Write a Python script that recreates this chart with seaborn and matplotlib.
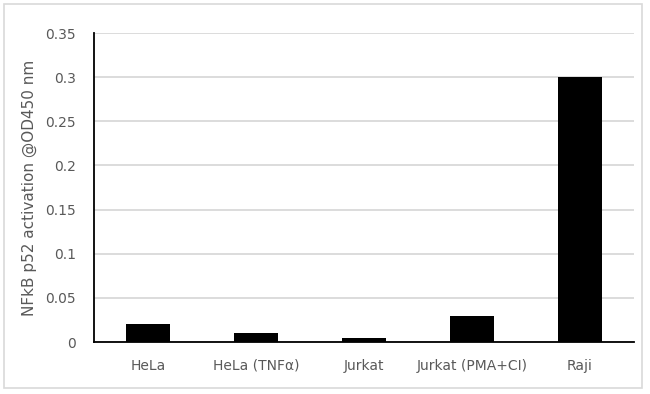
import matplotlib
matplotlib.use("Agg")
import matplotlib.pyplot as plt
import seaborn as sns
import pandas as pd
from matplotlib.patches import Rectangle

categories = ["HeLa", "HeLa (TNFα)", "Jurkat", "Jurkat (PMA+CI)", "Raji"]
values = [0.020, 0.010, 0.005, 0.030, 0.300]
yticks = [0, 0.05, 0.1, 0.15, 0.2, 0.25, 0.3, 0.35]
ytick_labels = ["0", "0.05", "0.1", "0.15", "0.2", "0.25", "0.3", "0.35"]

sns.set_theme(style="white")
plt.rcParams["font.family"] = ["DejaVu Sans"]

df = pd.DataFrame({"cat": categories, "val": values})

fig = plt.figure(figsize=(6.5, 3.94), dpi=100)
ax = fig.add_axes([94/650, 1-342/394, (634-94)/650, (342-33)/394])

sns.barplot(data=df, x="cat", y="val", color="black", width=0.41, ax=ax,
            saturation=1, zorder=3, linewidth=0, edgecolor="none")

ax.set_ylim(0, 0.35)
ax.set_xlim(-0.5, 4.5)
ax.set_yticks(yticks)
ax.set_yticklabels(ytick_labels)
ax.yaxis.grid(True, color="#d9d9d9", linewidth=1.3, zorder=0)
ax.set_axisbelow(True)
for s in ["top", "right"]:
    ax.spines[s].set_visible(False)
ax.spines["left"].set_color("black")
ax.spines["left"].set_linewidth(1.3)
ax.spines["bottom"].set_color("black")
ax.spines["bottom"].set_linewidth(1.3)
ax.tick_params(axis="y", length=0, pad=13, labelsize=10, labelcolor="#595959")
ax.tick_params(axis="x", length=0, pad=12, labelsize=10, labelcolor="#595959")
ax.set_xlabel("")
ax.set_ylabel("NFkB p52 activation @OD450 nm", fontsize=11, color="#595959", labelpad=6)

fig.patches.append(Rectangle((4/650, 1-388/394), (642-4)/650, (388-4)/394,
                             transform=fig.transFigure, fill=False,
                             edgecolor="#d9d9d9", linewidth=1.2))

fig.savefig("out.png", dpi=100, facecolor="white")
